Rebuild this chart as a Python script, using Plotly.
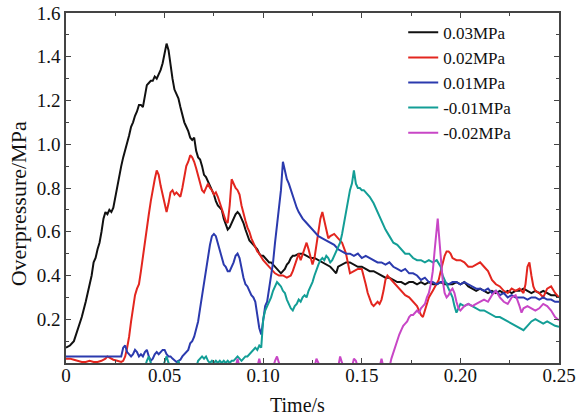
import plotly.graph_objects as go

# ---------------- data (time in s, overpressure in MPa) ----------------
t_black = [0.000,0.002,0.004,0.006,0.008,0.010,0.012,0.013,0.014,0.015,0.016,0.017,0.018,0.019,0.020,0.021,0.022,0.023,0.024,0.025,
           0.026,0.027,0.028,0.029,0.030,0.031,0.032,0.033,0.034,0.035,0.036,0.037,0.038,0.039,0.040,0.041,0.042,0.043,0.044,0.045,
           0.046,0.047,0.048,0.049,0.050,0.051,0.052,0.053,0.054,0.055,0.056,0.057,0.058,0.059,0.060,0.061,0.062,0.063,0.064,0.065,
           0.066,0.067,0.068,0.069,0.070,0.071,0.072,0.073,0.074,0.075,0.076,0.077,0.078,0.079,0.080,0.081,0.082,0.083,0.084,0.085,
           0.086,0.087,0.088,0.089,0.090,0.091,0.092,0.093,0.094,0.095,0.096,0.097,0.098,0.099,0.100,0.101,0.102,0.103,0.104,0.105,
           0.106,0.107,0.108,0.109,0.110,0.111,0.112,0.113,0.114,0.115,0.116,0.118,0.120,0.122,0.124,0.126,0.128,0.130,0.132,0.134,
           0.135,0.136,0.137,0.138,0.140,0.142,0.144,0.146,0.148,0.150,0.152,0.154,0.156,0.158,0.160,0.162,0.164,0.166,0.168,0.170,
           0.172,0.174,0.176,0.178,0.180,0.182,0.184,0.186,0.188,0.190,0.192,0.194,0.196,0.198,0.200,0.202,0.204,0.206,0.208,0.210,
           0.212,0.214,0.216,0.218,0.220,0.222,0.224,0.226,0.228,0.230,0.232,0.234,0.236,0.238,0.240,0.242,0.244,0.246,0.248,0.250]
p_black = [0.07,0.08,0.10,0.15,0.21,0.28,0.36,0.40,0.46,0.48,0.52,0.55,0.60,0.66,0.69,0.68,0.70,0.69,0.71,0.76,
           0.81,0.86,0.90,0.94,0.97,1.00,1.04,1.08,1.10,1.13,1.15,1.18,1.18,1.17,1.22,1.27,1.28,1.29,1.29,1.31,
           1.30,1.32,1.34,1.37,1.42,1.46,1.43,1.36,1.30,1.25,1.23,1.21,1.17,1.13,1.10,1.08,1.06,1.03,1.02,1.03,
           0.97,0.94,0.93,0.90,0.86,0.85,0.83,0.81,0.79,0.77,0.74,0.72,0.71,0.70,0.66,0.63,0.61,0.62,0.64,0.66,
           0.68,0.69,0.68,0.66,0.64,0.61,0.58,0.56,0.55,0.54,0.53,0.52,0.50,0.49,0.49,0.48,0.47,0.46,0.46,0.45,
           0.44,0.43,0.42,0.41,0.42,0.43,0.45,0.46,0.48,0.49,0.49,0.50,0.50,0.49,0.48,0.48,0.47,0.46,0.45,0.44,
           0.43,0.42,0.41,0.44,0.45,0.46,0.46,0.45,0.44,0.44,0.43,0.42,0.42,0.41,0.40,0.39,0.39,0.38,0.37,0.37,
           0.36,0.37,0.37,0.36,0.37,0.36,0.37,0.36,0.36,0.37,0.36,0.36,0.36,0.37,0.36,0.37,0.35,0.34,0.33,0.34,
           0.33,0.32,0.33,0.32,0.33,0.32,0.33,0.32,0.33,0.33,0.34,0.33,0.32,0.33,0.32,0.33,0.32,0.31,0.31,0.30]

t_red = [0.000,0.002,0.004,0.006,0.008,0.010,0.012,0.014,0.016,0.018,0.020,0.021,0.022,0.023,0.024,0.026,0.028,0.029,0.030,0.031,
         0.032,0.033,0.034,0.035,0.036,0.037,0.038,0.039,0.040,0.041,0.042,0.043,0.044,0.045,0.046,0.047,0.048,0.049,0.050,0.051,
         0.052,0.053,0.054,0.055,0.056,0.057,0.058,0.059,0.060,0.061,0.062,0.063,0.064,0.065,0.066,0.067,0.068,0.069,0.070,0.071,
         0.072,0.073,0.074,0.075,0.076,0.077,0.078,0.079,0.080,0.081,0.082,0.083,0.084,0.085,0.086,0.087,0.088,0.089,0.090,0.091,
         0.092,0.093,0.094,0.095,0.096,0.097,0.098,0.100,0.102,0.104,0.106,0.108,0.110,0.112,0.114,0.115,0.116,0.117,0.118,0.119,
         0.120,0.121,0.122,0.123,0.124,0.125,0.126,0.127,0.128,0.129,0.130,0.131,0.132,0.133,0.134,0.136,0.138,0.140,0.142,0.143,
         0.144,0.146,0.148,0.150,0.151,0.152,0.153,0.154,0.155,0.156,0.157,0.158,0.159,0.160,0.161,0.162,0.163,0.164,0.166,0.168,
         0.170,0.172,0.174,0.176,0.178,0.179,0.180,0.181,0.182,0.183,0.184,0.186,0.188,0.189,0.190,0.191,0.192,0.193,0.194,0.195,
         0.196,0.198,0.200,0.202,0.204,0.206,0.208,0.210,0.212,0.214,0.216,0.218,0.220,0.222,0.224,0.226,0.228,0.230,0.232,0.233,
         0.234,0.235,0.236,0.237,0.238,0.240,0.242,0.244,0.246,0.248,0.250]
p_red = [0.02,0.02,0.015,0.01,0.005,0.005,0.01,0.005,0.005,0.01,0.02,0.03,0.025,0.02,0.015,0.01,0.005,0.01,0.03,0.07,
         0.12,0.19,0.25,0.31,0.34,0.36,0.42,0.49,0.55,0.62,0.68,0.74,0.80,0.84,0.88,0.86,0.81,0.77,0.72,0.69,
         0.73,0.78,0.79,0.77,0.78,0.77,0.76,0.80,0.86,0.90,0.92,0.95,0.94,0.92,0.89,0.86,0.83,0.79,0.78,0.80,
         0.82,0.80,0.79,0.77,0.78,0.76,0.73,0.70,0.68,0.65,0.64,0.72,0.84,0.82,0.80,0.79,0.77,0.72,0.68,0.65,
         0.62,0.60,0.57,0.55,0.53,0.51,0.50,0.47,0.45,0.43,0.41,0.40,0.40,0.39,0.40,0.42,0.45,0.48,0.50,0.47,
         0.50,0.53,0.55,0.52,0.49,0.45,0.48,0.54,0.60,0.66,0.69,0.65,0.60,0.57,0.58,0.59,0.57,0.55,0.50,0.45,
         0.41,0.42,0.43,0.43,0.40,0.36,0.32,0.29,0.27,0.26,0.27,0.28,0.27,0.29,0.33,0.38,0.40,0.39,0.37,0.35,
         0.33,0.31,0.30,0.28,0.26,0.24,0.22,0.21,0.24,0.28,0.30,0.33,0.36,0.38,0.42,0.46,0.49,0.51,0.51,0.50,
         0.48,0.47,0.47,0.46,0.44,0.44,0.45,0.46,0.44,0.42,0.38,0.36,0.35,0.33,0.32,0.34,0.33,0.34,0.32,0.36,
         0.44,0.46,0.40,0.35,0.33,0.32,0.30,0.34,0.35,0.32,0.30]

t_blue = [0.000,0.028,0.029,0.030,0.031,0.032,0.033,0.034,0.035,0.036,0.037,0.038,0.039,0.040,0.041,0.042,0.043,0.044,0.045,0.046,
          0.047,0.048,0.049,0.050,0.051,0.052,0.053,0.054,0.055,0.056,0.057,0.058,0.059,0.060,0.061,0.062,0.063,0.064,0.065,0.066,
          0.067,0.068,0.069,0.070,0.071,0.072,0.073,0.074,0.075,0.076,0.077,0.078,0.079,0.080,0.081,0.082,0.083,0.084,0.085,0.086,
          0.087,0.088,0.089,0.090,0.091,0.092,0.093,0.094,0.095,0.096,0.097,0.098,0.099,0.100,0.101,0.102,0.103,0.104,0.105,0.106,
          0.107,0.108,0.109,0.110,0.111,0.112,0.113,0.114,0.115,0.116,0.117,0.118,0.120,0.122,0.124,0.126,0.128,0.130,0.132,0.134,
          0.136,0.138,0.140,0.142,0.144,0.146,0.148,0.150,0.152,0.154,0.156,0.158,0.160,0.162,0.164,0.166,0.168,0.170,0.172,0.174,
          0.176,0.178,0.180,0.182,0.184,0.186,0.188,0.190,0.192,0.194,0.196,0.198,0.200,0.202,0.204,0.206,0.208,0.210,0.212,0.214,
          0.216,0.218,0.220,0.222,0.224,0.226,0.228,0.230,0.232,0.234,0.236,0.238,0.240,0.242,0.244,0.246,0.248,0.250]
p_blue = [0.03,0.03,0.07,0.08,0.05,0.04,0.03,0.04,0.06,0.05,0.03,0.04,0.03,0.05,0.06,0.03,0.01,0.02,0.04,0.05,
          0.04,0.05,0.06,0.06,0.04,0.03,0.03,0.02,0.01,0.005,0.01,0.015,0.03,0.04,0.05,0.06,0.09,0.10,0.12,0.15,
          0.19,0.25,0.31,0.38,0.44,0.49,0.54,0.58,0.59,0.58,0.55,0.52,0.48,0.45,0.44,0.42,0.42,0.44,0.46,0.49,
          0.50,0.48,0.43,0.39,0.36,0.35,0.33,0.31,0.30,0.28,0.22,0.16,0.13,0.20,0.26,0.28,0.34,0.40,0.46,0.55,
          0.64,0.72,0.79,0.92,0.88,0.84,0.82,0.79,0.76,0.74,0.71,0.69,0.66,0.64,0.62,0.60,0.58,0.57,0.56,0.55,
          0.54,0.52,0.51,0.50,0.50,0.49,0.50,0.48,0.49,0.48,0.47,0.46,0.46,0.45,0.46,0.44,0.43,0.42,0.43,0.41,
          0.41,0.40,0.38,0.39,0.37,0.37,0.36,0.37,0.37,0.36,0.37,0.37,0.36,0.37,0.36,0.35,0.34,0.34,0.33,0.34,
          0.32,0.33,0.31,0.32,0.30,0.31,0.30,0.30,0.30,0.29,0.30,0.30,0.29,0.30,0.29,0.29,0.28,0.28]

t_teal = [0.000,0.040,0.041,0.042,0.043,0.044,0.049,0.050,0.051,0.052,0.053,0.056,0.057,0.058,0.066,0.067,0.068,0.069,0.070,0.071,
          0.072,0.073,0.074,0.075,0.076,0.077,0.078,0.079,0.080,0.081,0.082,0.083,0.084,0.085,0.086,0.087,0.088,0.089,0.090,0.091,
          0.092,0.093,0.094,0.095,0.096,0.097,0.098,0.099,0.100,0.101,0.102,0.103,0.104,0.105,0.106,0.107,0.108,0.109,0.110,0.111,
          0.112,0.113,0.114,0.115,0.116,0.117,0.118,0.119,0.120,0.121,0.122,0.123,0.124,0.125,0.126,0.127,0.128,0.129,0.130,0.131,
          0.132,0.133,0.134,0.135,0.136,0.137,0.138,0.139,0.140,0.141,0.142,0.143,0.144,0.145,0.146,0.147,0.148,0.149,0.150,0.151,
          0.152,0.154,0.156,0.158,0.160,0.162,0.164,0.166,0.168,0.170,0.172,0.174,0.176,0.178,0.180,0.182,0.184,0.186,0.188,0.190,
          0.191,0.192,0.193,0.194,0.195,0.196,0.197,0.198,0.199,0.200,0.202,0.204,0.206,0.208,0.210,0.212,0.214,0.216,0.218,0.220,
          0.222,0.224,0.226,0.228,0.230,0.232,0.234,0.236,0.238,0.240,0.242,0.244,0.246,0.248,0.250]
p_teal = [-0.02,-0.02,0.01,0.03,0.00,-0.02,-0.02,0.01,0.03,0.00,-0.02,-0.02,0.01,-0.02,-0.02,0.01,0.02,0.03,0.02,0.03,
          0.01,0.00,0.01,0.00,0.01,0.00,0.01,0.00,0.01,0.00,0.01,0.00,0.01,0.01,0.02,0.03,0.02,0.01,0.02,0.03,
          0.03,0.04,0.05,0.06,0.07,0.06,0.08,0.07,0.20,0.24,0.26,0.28,0.30,0.33,0.35,0.37,0.36,0.35,0.33,0.32,
          0.29,0.27,0.25,0.24,0.26,0.27,0.29,0.28,0.30,0.31,0.30,0.33,0.35,0.37,0.40,0.43,0.45,0.47,0.48,0.47,
          0.49,0.48,0.46,0.47,0.49,0.51,0.53,0.55,0.59,0.64,0.69,0.74,0.79,0.82,0.88,0.82,0.80,0.80,0.79,0.79,
          0.78,0.76,0.73,0.69,0.65,0.61,0.58,0.55,0.54,0.52,0.50,0.50,0.48,0.47,0.47,0.46,0.47,0.46,0.47,0.44,
          0.40,0.38,0.36,0.34,0.32,0.30,0.26,0.23,0.25,0.27,0.26,0.27,0.26,0.25,0.24,0.24,0.23,0.22,0.21,0.21,
          0.20,0.19,0.18,0.17,0.16,0.15,0.17,0.19,0.20,0.19,0.18,0.19,0.18,0.17,0.165]

t_mag = [0.000,0.086,0.087,0.088,0.097,0.098,0.099,0.105,0.106,0.107,0.108,0.109,0.126,0.127,0.128,0.129,0.138,0.139,0.140,0.141,
         0.145,0.146,0.147,0.148,0.159,0.160,0.161,0.164,0.165,0.166,0.167,0.168,0.169,0.170,0.171,0.172,0.173,0.174,0.175,0.176,
         0.177,0.178,0.179,0.180,0.181,0.182,0.183,0.184,0.185,0.186,0.187,0.188,0.1885,0.189,0.190,0.191,0.192,0.193,0.194,0.195,
         0.196,0.197,0.198,0.199,0.200,0.202,0.204,0.206,0.208,0.210,0.212,0.214,0.216,0.218,0.220,0.222,0.224,0.226,0.228,0.230,
         0.231,0.232,0.234,0.236,0.238,0.240,0.242,0.244,0.246,0.248,0.250]
p_mag = [-0.02,-0.02,0.02,-0.02,-0.02,0.02,-0.02,-0.02,0.01,0.03,0.00,-0.02,-0.02,0.02,0.00,-0.02,-0.02,0.03,0.00,-0.02,
         -0.02,0.02,0.01,-0.02,-0.02,0.02,-0.02,-0.02,0.02,0.05,0.08,0.11,0.13,0.15,0.17,0.18,0.19,0.21,0.22,0.22,
         0.23,0.24,0.23,0.25,0.26,0.27,0.30,0.32,0.36,0.42,0.52,0.62,0.66,0.60,0.47,0.38,0.32,0.30,0.31,0.33,
         0.34,0.32,0.28,0.25,0.24,0.26,0.27,0.26,0.27,0.28,0.29,0.28,0.31,0.33,0.30,0.28,0.27,0.30,0.31,0.26,
         0.23,0.25,0.26,0.25,0.24,0.25,0.27,0.26,0.24,0.21,0.195]

series_names = ["0.03MPa", "0.02MPa", "0.01MPa", "-0.01MPa", "-0.02MPa"]
series_colors = ["#111111", "#e3261f", "#2b3aae", "#139e96", "#c846c6"]

x_tickvals = [0, 0.05, 0.10, 0.15, 0.20, 0.25]
x_ticktext = ["0", "0.05", "0.10", "0.15", "0.20", "0.25"]
y_tickvals = [0.2, 0.4, 0.6, 0.8, 1.0, 1.2, 1.4, 1.6]
y_ticktext = ["0.2", "0.4", "0.6", "0.8", "1.0", "1.2", "1.4", "1.6"]

# ---------------- figure ----------------
FONT = "Liberation Serif, Times New Roman, Liberation Sans, Arial, sans-serif"
fig = go.Figure()
all_t = [t_black, t_red, t_blue, t_teal, t_mag]
all_p = [p_black, p_red, p_blue, p_teal, p_mag]
for t, p, name, col in zip(all_t, all_p, series_names, series_colors):
    fig.add_trace(go.Scatter(x=t, y=p, mode="lines", name=name,
                             line=dict(color=col, width=2)))

axis_common = dict(showline=True, linecolor="#444444", linewidth=1.5, mirror="allticks",
                   ticks="inside", ticklen=5, tickcolor="#444444", tickwidth=1.2,
                   showgrid=False, zeroline=False, automargin=False,
                   tickfont=dict(family=FONT, size=19, color="#111111"))

fig.update_xaxes(range=[0, 0.25], tickmode="array", tickvals=x_tickvals, ticktext=x_ticktext,
                 ticklabelstandoff=-6,
                 minor=dict(ticks="inside", ticklen=3, tickmode="linear", tick0=0, dtick=0.025,
                            tickcolor="#444444", showgrid=False),
                 **axis_common)
fig.update_yaxes(range=[0, 1.6], tickmode="array", tickvals=y_tickvals, ticktext=y_ticktext,
                 minor=dict(ticks="inside", ticklen=3, tickmode="linear", tick0=0, dtick=0.1,
                            tickcolor="#444444", showgrid=False),
                 **axis_common)

fig.add_annotation(text="Overpressure/MPa", textangle=-90, xref="paper", yref="paper",
                   x=-0.097, y=0.454, xanchor="center", yanchor="middle", showarrow=False,
                   font=dict(family=FONT, size=22, color="#111111"))
fig.add_annotation(text="Time/s", xref="paper", yref="paper",
                   x=0.47, y=-0.12, xanchor="center", yanchor="middle", showarrow=False,
                   font=dict(family=FONT, size=20, color="#111111"))

fig.update_layout(
    width=580, height=418, autosize=False,
    font=dict(family=FONT, size=17, color="#111111"),
    margin=dict(l=66, r=21, t=13, b=55, autoexpand=False),
    paper_bgcolor="white", plot_bgcolor="white",
    showlegend=True,
    legend=dict(x=0.684, y=0.995, xanchor="left", yanchor="top",
                bgcolor="rgba(0,0,0,0)", borderwidth=0,
                font=dict(family=FONT, size=17, color="#111111"),
                tracegroupgap=0, itemwidth=30),
)

fig.write_html("out.html")
